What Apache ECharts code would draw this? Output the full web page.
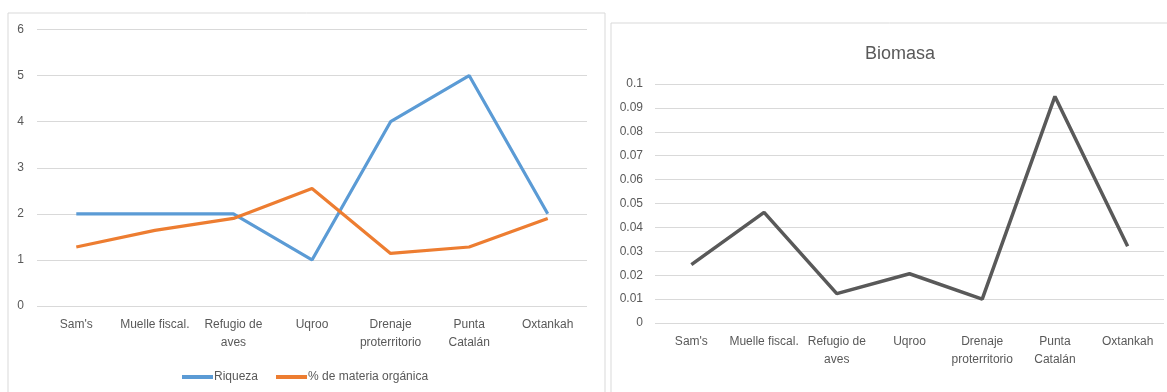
<!DOCTYPE html>
<html>
<head>
<meta charset="utf-8">
<script src="https://cdn.jsdelivr.net/npm/echarts@6/dist/echarts.min.js"></script>
<style>
  html, body { margin: 0; padding: 0; background: #fff; }
  #chart { width: 1167px; height: 392px; }
</style>
</head>
<body>
<div id="chart"></div>
<script>
var sitios = ["Sam's", 'Muelle fiscal.', 'Refugio de\naves', 'Uqroo', 'Drenaje\nproterritorio', 'Punta\nCatalán', 'Oxtankah'];
var riqueza = [2, 2, 2, 1, 4, 5, 2];
var materiaOrganica = [1.28, 1.64, 1.9, 2.55, 1.14, 1.28, 1.9];
var biomasa = [0.0244, 0.0463, 0.0123, 0.0206, 0.0100, 0.0948, 0.0321];

var txt = '#595959';
var font = 'Liberation Sans';
var chart = echarts.init(document.getElementById('chart'));

function catAxis(idx) {
  return {
    type: 'category',
    gridIndex: idx,
    data: sitios,
    boundaryGap: true,
    axisLine: { show: false },
    axisTick: { show: false },
    axisLabel: { color: txt, fontFamily: font, fontSize: 12, lineHeight: 18, margin: 10, interval: 0 }
  };
}

chart.setOption({
  animation: false,
  graphic: [
    { type: 'rect', shape: { x: 8, y: 13, width: 597, height: 390 }, style: { fill: 'none', stroke: '#d9d9d9', lineWidth: 1 } },
    { type: 'rect', shape: { x: 611, y: 23, width: 570, height: 380 }, style: { fill: 'none', stroke: '#d9d9d9', lineWidth: 1 } }
  ],
  title: {
    text: 'Biomasa',
    left: 895,
    top: 40,
    textAlign: 'center',
    textStyle: { color: txt, fontFamily: font, fontSize: 18, fontWeight: 'normal' }
  },
  legend: {
    left: 177,
    top: 366,
    itemWidth: 31,
    itemHeight: 4,
    itemGap: 18,
    icon: 'rect',
    textStyle: { color: txt, fontFamily: font, fontSize: 12, padding: [0, 0, 0, -4] },
    data: ['Riqueza', '% de materia orgánica']
  },
  grid: [
    { left: 37, top: 29.5, width: 550, height: 276.5 },
    { left: 655, top: 84, width: 509, height: 239 }
  ],
  xAxis: [catAxis(0), catAxis(1)],
  yAxis: [
    {
      type: 'value', gridIndex: 0, min: 0, max: 6, interval: 1,
      axisLabel: { color: txt, fontFamily: font, fontSize: 12, margin: 13 },
      splitLine: { lineStyle: { color: '#d9d9d9' } }
    },
    {
      type: 'value', gridIndex: 1, min: 0, max: 0.1, interval: 0.01,
      axisLabel: { color: txt, fontFamily: font, fontSize: 12, margin: 12 },
      splitLine: { lineStyle: { color: '#d9d9d9' } }
    }
  ],
  series: [
    {
      name: 'Riqueza', type: 'line', xAxisIndex: 0, yAxisIndex: 0,
      data: riqueza, symbol: 'none',
      color: '#5b9bd5', lineStyle: { width: 3.2, color: '#5b9bd5' }
    },
    {
      name: '% de materia orgánica', type: 'line', xAxisIndex: 0, yAxisIndex: 0,
      data: materiaOrganica, symbol: 'none',
      color: '#ed7d31', lineStyle: { width: 3.2, color: '#ed7d31' }
    },
    {
      name: 'Biomasa', type: 'line', xAxisIndex: 1, yAxisIndex: 1,
      data: biomasa, symbol: 'none',
      color: '#595959', lineStyle: { width: 3.5, color: '#595959' }
    }
  ]
});
</script>
</body>
</html>
